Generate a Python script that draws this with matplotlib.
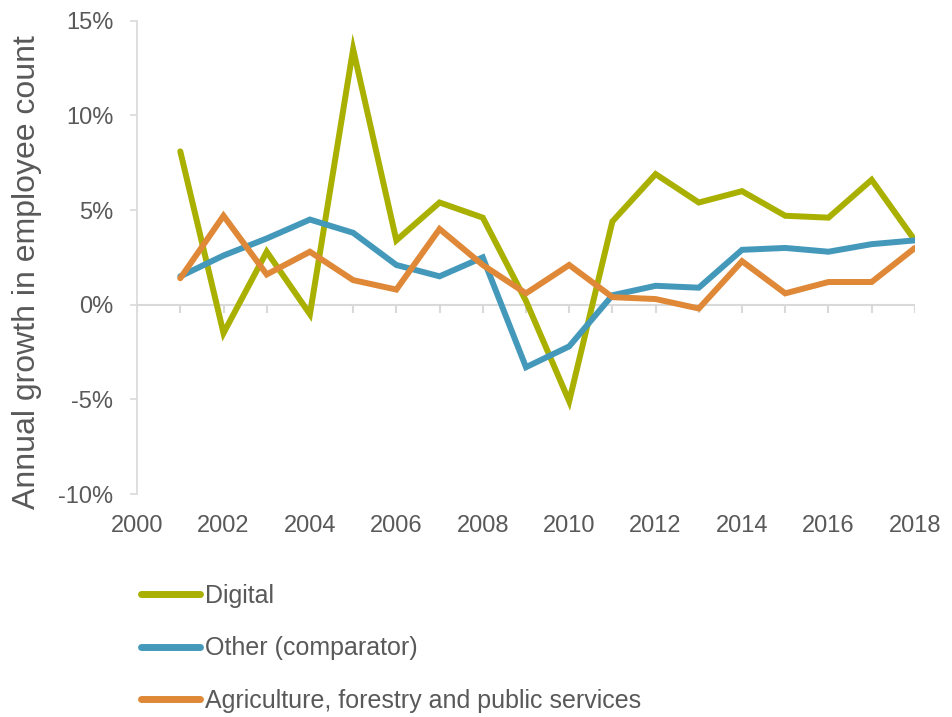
import numpy as np
import matplotlib
matplotlib.use('Agg')
import matplotlib.pyplot as plt
from matplotlib.ticker import FuncFormatter

plt.rcParams['font.family'] = ['Liberation Sans', 'DejaVu Sans']

# Data (annual growth, %)
years = list(range(2001, 2019))
digital = [8.1, -1.5, 2.8, -0.5, 13.5, 3.4, 5.4, 4.6, 0.2, -5.1,
           4.4, 6.9, 5.4, 6.0, 4.7, 4.6, 6.6, 3.4]
other = [1.5, 2.6, 3.5, 4.5, 3.8, 2.1, 1.5, 2.5, -3.3, -2.2,
         0.5, 1.0, 0.9, 2.9, 3.0, 2.8, 3.2, 3.4]
agri = [1.4, 4.7, 1.6, 2.8, 1.3, 0.8, 4.0, 2.1, 0.6, 2.1,
        0.4, 0.3, -0.2, 2.3, 0.6, 1.2, 1.2, 3.0]
labels = ['Digital', 'Other (comparator)', 'Agriculture, forestry and public services']
colors = ['#A9B000', '#4499BB', '#DF8837']

text_col = '#595959'
grid_col = '#D9D9D9'

fig = plt.figure(figsize=(9.52, 7.17), dpi=100)
ax = fig.add_axes([0.144, 0.311, 0.817, 0.66])

for vals, lab, c in zip([digital, other, agri], labels, colors):
    ax.plot(years, vals, color=c, lw=4.3, label=lab, solid_capstyle='round',
            solid_joinstyle='miter')

ax.set_xlim(2000, 2018)
ax.set_ylim(-10, 15)
ax.set_yticks([-10, -5, 0, 5, 10, 15])
ax.yaxis.set_major_formatter(FuncFormatter(lambda v, p: f'{v:.0f}%'))
ax.set_xticks(range(2000, 2019, 2))

for s in ['top', 'right', 'bottom']:
    ax.spines[s].set_visible(False)
ax.spines['left'].set_color(grid_col)
ax.spines['left'].set_linewidth(1.2)

# horizontal axis line at zero with yearly tick marks
ax.axhline(0, color=grid_col, lw=1.5, zorder=0)
ax.vlines(range(2000, 2019), -0.45, 0, color=grid_col, lw=1.5, zorder=0)

ax.tick_params(axis='y', colors=grid_col, length=5, width=1.2, labelcolor=text_col,
               labelsize=17, pad=12)
ax.tick_params(axis='x', length=0, labelcolor=text_col, labelsize=17, pad=15)

ax.set_ylabel('Annual growth in employee count', fontsize=23, color=text_col, labelpad=12)
ax.yaxis.label.set_y(0.47)

handles, labs = ax.get_legend_handles_labels()
leg = fig.legend(handles, labs, loc='upper left', bbox_to_anchor=(0.138, 0.2),
                 frameon=False, fontsize=18, handlelength=2.35, handletextpad=0.2,
                 labelspacing=1.15, borderaxespad=0)
for t in leg.get_texts():
    t.set_color(text_col)
for h in leg.get_lines():
    h.set_linewidth(5)

fig.savefig('out.png', dpi=100)
